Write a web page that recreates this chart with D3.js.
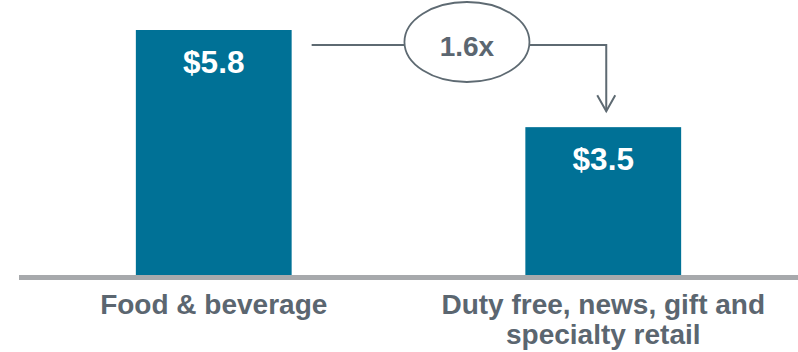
<!DOCTYPE html>
<html>
<head>
<meta charset="utf-8">
<script src="https://cdn.jsdelivr.net/npm/d3@7"></script>
<style>
  html, body { margin: 0; padding: 0; background: #ffffff; }
  svg { display: block; }
  text { font-family: "Liberation Sans", Arial, Helvetica, sans-serif; font-weight: bold; }
</style>
</head>
<body>
<svg id="chart" width="798" height="352"></svg>
<script>
const categories = ["Food & beverage", "Duty free, news, gift and specialty retail"];
const categoryLines = [["Food & beverage"], ["Duty free, news, gift and", "specialty retail"]];
const values = [5.8, 3.5];
const valueLabels = ["$5.8", "$3.5"];
const multipleLabel = "1.6x";

const W = 798, H = 352;
const svg = d3.select("#chart");

const x = d3.scaleBand().domain(categories).range([19, 798]).paddingInner(0.6).paddingOuter(0.3);
const y = d3.scaleLinear().domain([0, 5.8]).range([275, 30]);

const barColor = "#007196";
const textGray = "#5b6670";
const lineGray = "#5e6a72";

// bars
svg.selectAll("rect.bar").data(values).join("rect")
  .attr("class", "bar")
  .attr("x", (d, i) => x(categories[i]))
  .attr("y", d => y(d))
  .attr("width", x.bandwidth())
  .attr("height", d => y(0) - y(d))
  .attr("fill", barColor);

// baseline
svg.append("rect")
  .attr("x", 19).attr("y", y(0))
  .attr("width", W - 19).attr("height", 5)
  .attr("fill", "#a7a9ac");

// value labels
svg.selectAll("text.val").data(values).join("text")
  .attr("class", "val")
  .attr("x", (d, i) => x(categories[i]) + x.bandwidth() / 2)
  .attr("y", d => y(d) + 42.5)
  .attr("text-anchor", "middle")
  .attr("fill", "#ffffff")
  .attr("font-size", 31.5)
  .text((d, i) => valueLabels[i]);

// category labels
categoryLines.forEach((lines, i) => {
  const t = svg.append("text")
    .attr("x", x(categories[i]) + x.bandwidth() / 2)
    .attr("y", 314)
    .attr("text-anchor", "middle")
    .attr("fill", textGray)
    .attr("font-size", 28);
  lines.forEach((ln, j) => {
    t.append("tspan")
      .attr("x", x(categories[i]) + x.bandwidth() / 2)
      .attr("dy", j === 0 ? 0 : 30)
      .text(ln);
  });
});

// connector arrow
const x1 = x(categories[0]) + x.bandwidth() + 20;
const yLine = y(values[0]) + 15;
const x2 = x(categories[1]) + x.bandwidth() / 2 + 3;
const yTip = y(values[1]) - 16;
const ellCx = (x1 + x2) / 2 + 8, ellCy = 42, rx = 62.5, ry = 40;

svg.append("path")
  .attr("d", `M${x1},${yLine} H${ellCx - rx}`)
  .attr("stroke", lineGray).attr("stroke-width", 2).attr("fill", "none");
svg.append("path")
  .attr("d", `M${ellCx + rx},${yLine} H${x2} V${yTip}`)
  .attr("stroke", lineGray).attr("stroke-width", 2).attr("fill", "none");
svg.append("path")
  .attr("d", `M${x2 - 9},${yTip - 16} L${x2},${yTip} L${x2 + 9},${yTip - 16}`)
  .attr("stroke", lineGray).attr("stroke-width", 2).attr("fill", "none");

svg.append("ellipse")
  .attr("cx", ellCx).attr("cy", ellCy).attr("rx", rx).attr("ry", ry)
  .attr("fill", "#ffffff").attr("stroke", lineGray).attr("stroke-width", 1.8);

svg.append("text")
  .attr("x", ellCx).attr("y", 55.5)
  .attr("text-anchor", "middle")
  .attr("fill", textGray)
  .attr("font-size", 28)
  .text(multipleLabel);
</script>
</body>
</html>
